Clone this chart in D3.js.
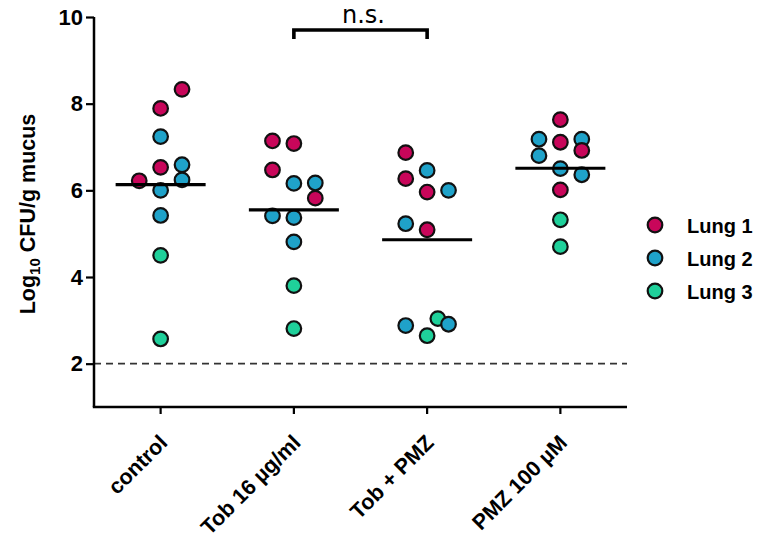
<!DOCTYPE html>
<html><head><meta charset="utf-8">
<script src="https://cdn.jsdelivr.net/npm/d3@7"></script>
<style>body{margin:0;background:#fff}svg{display:block}</style>
</head><body>
<script>
const categories = ["control", "Tob 16 µg/ml", "Tob + PMZ", "PMZ 100 µM"];
const lungs = ["Lung 1", "Lung 2", "Lung 3"];
const lungColors = ["#c8065a", "#1fa2c9", "#1fd09a"];
const yTicks = [2, 4, 6, 8, 10];
const medians = [6.13, 5.55, 4.86, 6.51];
const detectionLimit = 2;
// points per group: value, lung index (0..2), jitter slot
const controlVals  = [8.33, 7.89, 7.24, 6.53, 6.59, 6.22, 6.24, 6.00, 5.42, 4.50, 2.57];
const controlLung  = [0, 0, 1, 0, 1, 0, 1, 1, 1, 2, 2];
const controlSlot  = [1, 0, 0, 0, 1, -1, 1, 0, 0, 0, 0];
const tobVals      = [7.14, 7.08, 6.47, 6.16, 6.17, 5.82, 5.41, 5.37, 4.81, 3.80, 2.81];
const tobLung      = [0, 0, 0, 1, 1, 0, 1, 1, 1, 2, 2];
const tobSlot      = [-1, 0, -1, 0, 1, 1, -1, 0, 0, 0, 0];
const tobPmzVals   = [6.87, 6.46, 6.27, 5.96, 6.00, 5.23, 5.09, 2.88, 3.04, 2.91, 2.645];
const tobPmzLung   = [0, 1, 0, 0, 1, 1, 0, 1, 2, 1, 2];
const tobPmzSlot   = [-1, 0, -1, 0, 1, -1, 0, -1, 0.5, 1, 0];
const pmzVals      = [7.63, 7.18, 7.11, 7.18, 6.92, 6.80, 6.50, 6.36, 6.01, 5.32, 4.70];
const pmzLung      = [0, 1, 0, 1, 0, 1, 1, 1, 0, 2, 2];
const pmzSlot      = [0, -1, 0, 1, 1, -1, 0, 1, 0, 0, 0];

const groups = [
  [controlVals, controlLung, controlSlot],
  [tobVals, tobLung, tobSlot],
  [tobPmzVals, tobPmzLung, tobPmzSlot],
  [pmzVals, pmzLung, pmzSlot]
];

const W = 763, H = 544;
const FONT = "Liberation Sans, Arial, sans-serif";
const svg = d3.select("body").append("svg").attr("width", W).attr("height", H);
const x0 = 94, x1 = 627, yTop = 17, yBot = 407;
const x = d3.scaleBand().domain(categories).range([x0, x1]).padding(0);
const y = d3.scaleLinear().domain([1, 10]).range([yBot, yTop]);
const slotStep = 21.4;

// dashed detection limit
svg.append("line").attr("x1", x0).attr("x2", x1)
  .attr("y1", y(detectionLimit)).attr("y2", y(detectionLimit))
  .attr("stroke", "#333").attr("stroke-width", 1.8).attr("stroke-dasharray", "7,5");

// y axis
const yAxis = svg.append("g").attr("transform", `translate(${x0},0)`)
  .call(d3.axisLeft(y).tickValues(yTicks).tickSize(8).tickSizeOuter(0).tickPadding(3));
yAxis.select(".domain").attr("stroke", "#000").attr("stroke-width", 2.5)
  .attr("d", `M0,${yTop}V${yBot}`);
yAxis.selectAll(".tick line").attr("stroke", "#000").attr("stroke-width", 2.2);
yAxis.selectAll(".tick text").attr("font-family", FONT)
  .attr("font-weight", "bold").attr("font-size", 22).attr("fill", "#000");

// x axis
const xAxis = svg.append("g").attr("transform", `translate(0,${yBot})`)
  .call(d3.axisBottom(x).tickSize(7).tickSizeOuter(0).tickPadding(6));
xAxis.select(".domain").attr("stroke", "#000").attr("stroke-width", 2.5)
  .attr("d", `M${x0 - 1.2},0H${x1}`);
xAxis.selectAll(".tick line").attr("stroke", "#000").attr("stroke-width", 2.2);
xAxis.selectAll(".tick text").attr("font-family", FONT)
  .attr("font-weight", "bold").attr("font-size", 21.5).attr("fill", "#000")
  .attr("text-anchor", "end").attr("dy", null).attr("y", 0)
  .attr("transform", "translate(8,37) rotate(-45)");

// y label
const yl = svg.append("text")
  .attr("transform", `translate(35,${(yTop + yBot) / 2 + 2}) rotate(-90)`)
  .attr("text-anchor", "middle")
  .attr("font-family", FONT)
  .attr("font-weight", "bold").attr("font-size", 21.5).attr("fill", "#000");
yl.append("tspan").text("Log");
yl.append("tspan").text("10").attr("font-size", 15).attr("dy", 5);
yl.append("tspan").text(" CFU/g mucus").attr("dy", -5);

// points
groups.forEach((g, gi) => {
  const cx = x(categories[gi]) + x.bandwidth() / 2;
  const pts = g[0].map((v, i) => ({v, lung: g[1][i], slot: g[2][i]}));
  svg.append("g").selectAll("circle").data(pts).join("circle")
    .attr("cx", d => cx + d.slot * slotStep)
    .attr("cy", d => y(d.v))
    .attr("r", 7.3)
    .attr("fill", d => lungColors[d.lung])
    .attr("stroke", "#111").attr("stroke-width", 2.2);
});

// medians
svg.append("g").selectAll("line").data(medians).join("line")
  .attr("x1", (d, i) => x(categories[i]) + x.bandwidth() / 2 - 45)
  .attr("x2", (d, i) => x(categories[i]) + x.bandwidth() / 2 + 45)
  .attr("y1", d => y(d)).attr("y2", d => y(d))
  .attr("stroke", "#000").attr("stroke-width", 3.2);

// significance bracket
const bx1 = x(categories[1]) + x.bandwidth() / 2, bx2 = x(categories[2]) + x.bandwidth() / 2;
svg.append("path").attr("d", `M${bx1},39V30H${bx2}V39`)
  .attr("fill", "none").attr("stroke", "#000").attr("stroke-width", 3.6);
svg.append("text").attr("x", (bx1 + bx2) / 2 + 3).attr("y", 23)
  .attr("text-anchor", "middle").attr("font-family", "DejaVu Sans, sans-serif")
  .attr("font-size", 24).attr("fill", "#000").text("n.s.");

// legend
const lg = svg.append("g");
lungs.forEach((l, i) => {
  const ly = 225 + i * 33;
  lg.append("circle").attr("cx", 655).attr("cy", ly).attr("r", 7.3)
    .attr("fill", lungColors[i]).attr("stroke", "#111").attr("stroke-width", 2.2);
  lg.append("text").attr("x", 687).attr("y", ly + 7.5).text(l)
    .attr("font-family", FONT)
    .attr("font-weight", "bold").attr("font-size", 20).attr("fill", "#000");
});
</script>
</body></html>
